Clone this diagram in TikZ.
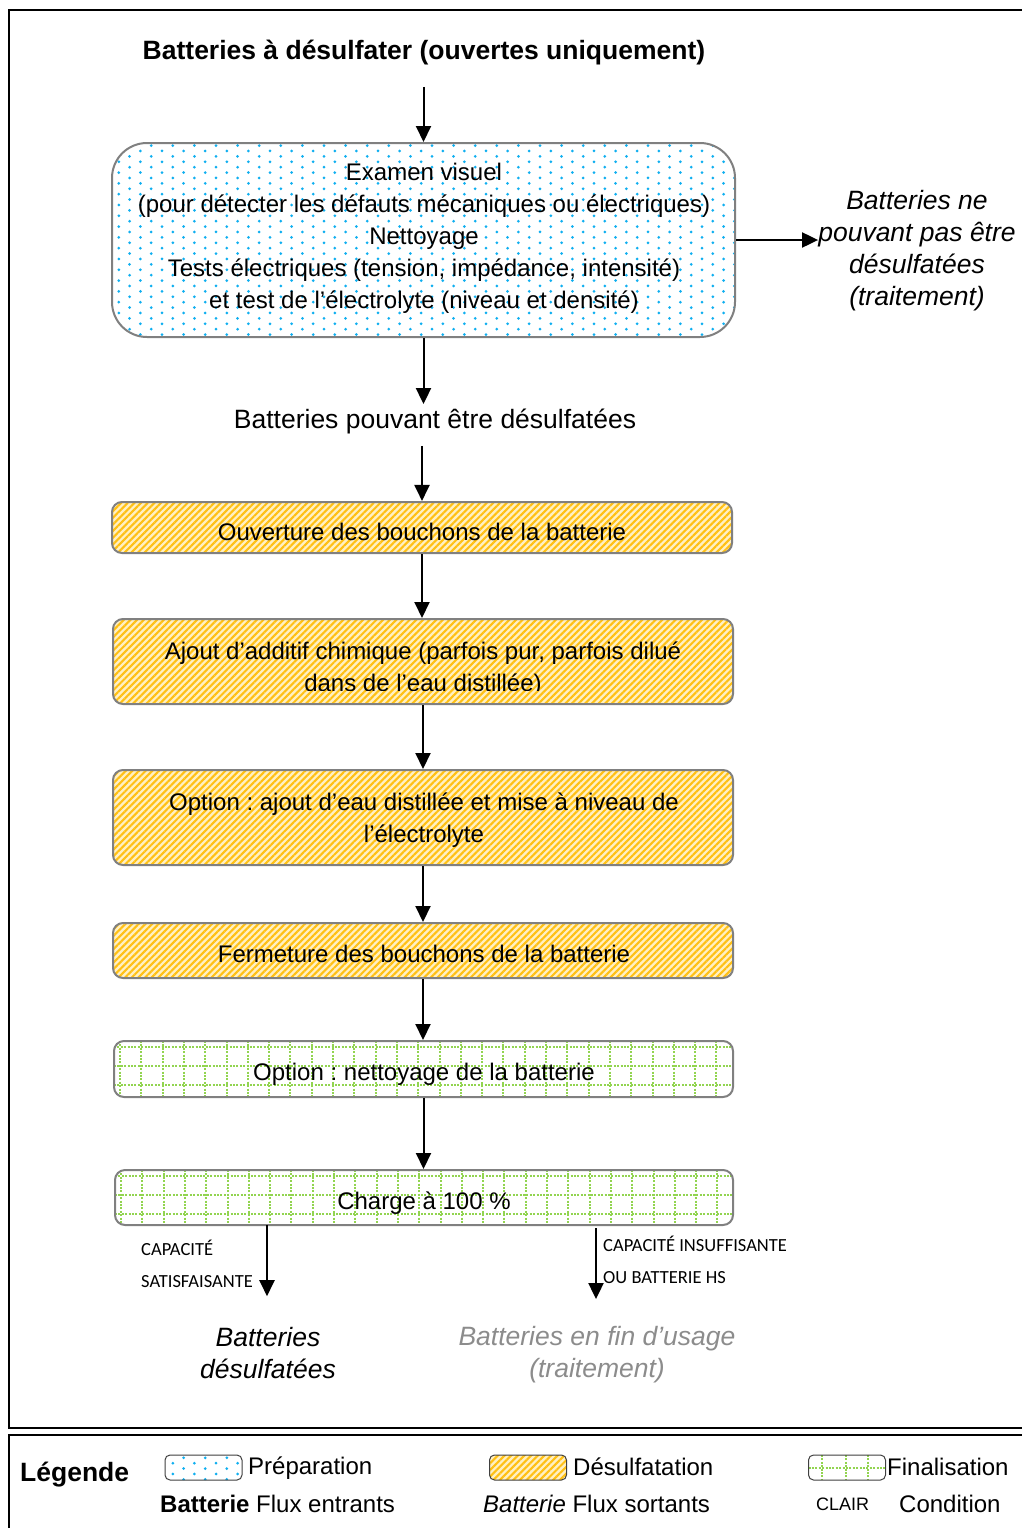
\documentclass[tikz,border=0pt]{standalone}
\usepackage{fontspec}
\setmainfont{Liberation Sans}
\newfontfamily\condfont{Carlito}
\usetikzlibrary{arrows.meta,patterns.meta}
\frenchspacing

\definecolor{dotblue}{RGB}{15,175,240}
\definecolor{hatchfg}{RGB}{255,192,20}
\definecolor{hatchbg}{RGB}{255,240,195}
\definecolor{gridgreen}{RGB}{146,212,80}
\definecolor{boxline}{RGB}{128,128,128}
\definecolor{fadetext}{RGB}{140,140,140}

% line strut: puts the middle of each line at the visual centre of its capitals
\newcommand{\vs}{\rule[-0.12em]{0pt}{0.95em}}

\tikzset{
  arr/.style={line width=2pt,-{Triangle[length=16pt,width=15pt]}},
  txt/.style={inner sep=0pt,align=center},
  bodytext/.style={txt,font=\fontsize{24}{32}\selectfont},
  bigtext/.style={txt,font=\fontsize{26.5}{32}\selectfont},
  condtext/.style={inner sep=0pt,align=left,font=\condfont\fontsize{18.5}{32}\selectfont},
  % staggered dot lattice: 21.6pt across, 10.8pt down, odd columns offset by half
  dotsA/.style={pattern={Dots[distance=21.6pt,radius=1.5pt]},pattern color=dotblue},
  dotsB/.style={pattern={Dots[distance=21.6pt,radius=1.5pt,yshift=10.8pt]},pattern color=dotblue},
  dotsC/.style={pattern={Dots[distance=21.6pt,radius=1.5pt,xshift=10.8pt,yshift=5.4pt]},pattern color=dotblue},
  dotsD/.style={pattern={Dots[distance=21.6pt,radius=1.5pt,xshift=10.8pt,yshift=16.2pt]},pattern color=dotblue},
  dotfill/.style={preaction={fill=white},preaction={dotsA},preaction={dotsB},preaction={dotsC},dotsD},
  stripes/.style={pattern={Lines[angle=45,distance=4.7pt,line width=2.1pt]},pattern color=hatchfg},
  prepbox/.style={draw=boxline,line width=2pt,rounded corners=35pt,inner sep=0pt,dotfill},
  hatchbox/.style={draw=boxline,line width=2pt,rounded corners=10pt,inner sep=0pt,
    preaction={fill=hatchbg},stripes},
  griddots/.style={gridgreen,line width=2pt,dash pattern=on 2pt off 1.4pt},
  gridbox/.style={draw=boxline,line width=2pt,rounded corners=10pt,inner sep=0pt,fill=white,
    path picture={
      \foreach \i in {0,...,30}{
        \draw[griddots] ([xshift=\i*21.3pt+6pt]path picture bounding box.north west)
          -- ([xshift=\i*21.3pt+6pt]path picture bounding box.south west);}
      \foreach \j in {0,...,3}{
        \draw[griddots] ([yshift=-\j*19pt-6pt]path picture bounding box.north west)
          -- ([yshift=-\j*19pt-6pt]path picture bounding box.north east);}
    }},
  keybox/.style={draw=black!75,line width=1pt,rounded corners=5pt,inner sep=0pt,
    minimum width=77pt,minimum height=25pt},
  keyprep/.style={keybox,dotfill},
  keyhatch/.style={keybox,preaction={fill=hatchbg},stripes},
  keygrid/.style={keybox,fill=white,
    path picture={
      \foreach \i in {13,37,59}{
        \draw[griddots] ([xshift=\i pt]path picture bounding box.north west)
          -- ([xshift=\i pt]path picture bounding box.south west);}
      \draw[griddots] (path picture bounding box.west) -- (path picture bounding box.east);
    }},
}

\begin{document}
\begin{tikzpicture}[x=1pt,y=-1pt]
\useasboundingbox (0,0) rectangle (1022,1528);
\clip (0,0) rectangle (1022,1528);
\fill[white] (0,0) rectangle (1022,1528);

% frames of the chart and of the key
\draw[line width=2pt] (9,10) rectangle (1040,1428);
\draw[line width=2pt] (9,1435) rectangle (1040,1545);

% heading
\node[bigtext,font=\bfseries\fontsize{26.5}{32}\selectfont] (title) at (424,51)
  {\vs Batteries à désulfater (ouvertes uniquement)};

% preparation
\node[prepbox,minimum width=623pt,minimum height=194pt] (box1) at (423.5,240) {};
\node[bodytext] (box1txt) at (424,237) {\vs Examen visuel\\
  \vs (pour détecter les défauts mécaniques ou électriques)\\
  \vs Nettoyage\\
  \vs Tests électriques (tension, impédance, intensité)\\
  \vs et test de l’électrolyte (niveau et densité)};

\node[bigtext,font=\itshape\fontsize{26.5}{32}\selectfont] (reject) at (917,249)
  {\vs Batteries ne\\ \vs pouvant pas être\\ \vs désulfatées\\ \vs (traitement)};

\node[bigtext] (ok) at (435,420) {\vs Batteries pouvant être désulfatées};

% desulfation
\node[hatchbox,minimum width=620pt,minimum height=51pt] (box2) at (422,527.5) {};
\node[bodytext] (box2txt) at (422,532) {\vs Ouverture des bouchons de la batterie};

\node[hatchbox,minimum width=620pt,minimum height=85pt] (box3) at (423,661.5) {};
\begin{scope}
  \clip (113,619) rectangle (733,690);
  \node[bodytext] (box3txt) at (423,668)
    {\vs Ajout d’additif chimique (parfois pur, parfois dilué\\ \vs dans de l’eau distillée)};
\end{scope}

\node[hatchbox,minimum width=620pt,minimum height=95pt] (box4) at (423,817.5) {};
\node[bodytext] (box4txt) at (424,819)
  {\vs Option : ajout d’eau distillée et mise à niveau de\\ \vs l’électrolyte};

\node[hatchbox,minimum width=620pt,minimum height=55pt] (box5) at (423,950.5) {};
\node[bodytext] (box5txt) at (424,954) {\vs Fermeture des bouchons de la batterie};

% finalisation
\node[gridbox,minimum width=619pt,minimum height=56pt] (box6) at (423.5,1069) {};
\node[bodytext] (box6txt) at (424,1073) {\vs Option : nettoyage de la batterie};

\node[gridbox,minimum width=618pt,minimum height=55pt] (box7) at (424,1197.5) {};
\node[bodytext] (box7txt) at (424,1202) {\vs Charge à 100 \%};

% outputs
\node[bigtext,font=\itshape\fontsize{26.5}{32}\selectfont] (done) at (268,1353)
  {\vs Batteries\\ \vs désulfatées};
\node[bigtext,font=\itshape\fontsize{26.5}{32}\selectfont,text=fadetext] (endlife) at (597,1353)
  {\vs Batteries en fin d’usage\\ \vs (traitement)};

\node[condtext,anchor=west] (condok) at (141,1265) {\vs CAPACITÉ\\ \vs SATISFAISANTE};
\node[condtext,anchor=west] (condko) at (603,1261) {\vs CAPACITÉ INSUFFISANTE\\ \vs OU BATTERIE HS};

% connectors
\draw[arr,shorten <=22pt] (title.south -| box1.north) -- (box1.north);
\draw[arr] (box1.east) -- (box1.east -| reject.west);
\draw[arr,shorten >=2pt] (box1.south) -- (box1.south |- ok.north);
\draw[arr,shorten <=12pt] (ok.south -| box2.north) -- (box2.north);
\draw[arr] (box2.south) -- (box2.south |- box3.north);
\draw[arr] (box3.south) -- (box3.south |- box4.north);
\draw[arr] (box4.south) -- (box4.south |- box5.north);
\draw[arr] (box5.south) -- (box5.south |- box6.north);
\draw[arr] (box6.south) -- (box6.south |- box7.north);
\coordinate (splitok) at (267,1225);
\coordinate (splitko) at (596,1228);
\draw[arr,shorten >=28pt] (splitok) -- (splitok |- done.north);
\draw[arr,shorten >=24pt] (splitko) -- (splitko |- endlife.north);

% key
\node[txt,anchor=west,font=\bfseries\fontsize{26.5}{32}\selectfont] (keytitle) at (20,1473) {\vs Légende};
\node[keyprep] (keyp) at (203.5,1467.5) {};
\node[bodytext,anchor=west] (keyptxt) at (248,1467) {\vs Préparation};
\node[keyhatch] (keyh) at (528,1467.5) {};
\node[bodytext,anchor=west] (keyhtxt) at (573,1467) {\vs Désulfatation};
\node[keygrid] (keyg) at (847,1467.5) {};
\node[bodytext,anchor=west] (keygtxt) at (887,1467) {\vs Finalisation};
\node[bodytext,anchor=west] (keyin) at (160,1504) {\vs\textbf{Batterie} Flux entrants};
\node[bodytext,anchor=west] (keyout) at (483,1504) {\vs\textit{Batterie} Flux sortants};
\node[txt,anchor=west,font=\fontsize{18}{24}\selectfont] (keyclair) at (816,1504) {\vs CLAIR};
\node[bodytext,anchor=west] (keycond) at (899,1504) {\vs Condition};
\end{tikzpicture}
\end{document}
